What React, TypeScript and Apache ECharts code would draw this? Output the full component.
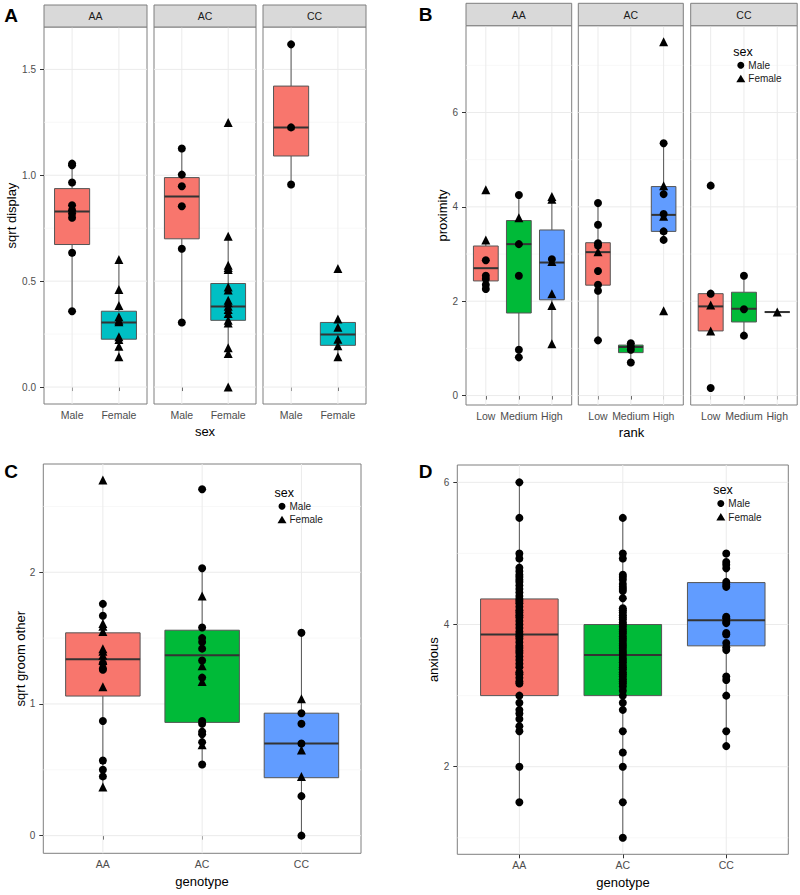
import React, { useEffect, useRef } from "react";
import * as echarts from "echarts";

// ---------- categories ----------
const sexLevels = ["Male", "Female"];
const genotypeLevels = ["AA", "AC", "CC"];
const rankLevels = ["Low", "Medium", "High"];
const legendLevels = ["Male", "Female"];
const fillTwo = ["#F8766D", "#00BFC4"];
const fillThree = ["#F8766D", "#00BA38", "#619CFF"];

// ---------- tick values ----------
const displayTicks = [0, 0.5, 1.0, 1.5];
const displayMinor = [0.25, 0.75, 1.25];
const proximityTicks = [0, 2, 4, 6];
const proximityMinor = [1, 3, 5, 7];
const groomTicks = [0, 1, 2];
const groomMinor = [0.5, 1.5, 2.5];
const anxiousTicks = [2, 4, 6];
const anxiousMinor = [1, 3, 5];

// ---------- Panel A: sqrt display ----------
// box rows: [lower whisker, Q1, median, Q3, upper whisker] for Male, Female
const displayBoxAA = [[0.358, 0.673, 0.829, 0.937, 1.055], [0.143, 0.226, 0.305, 0.358, 0.602]];
const displayBoxAC = [[0.305, 0.700, 0.900, 0.989, 1.126], [0.159, 0.315, 0.380, 0.489, 0.712]];
const displayBoxCC = [[0.956, 1.091, 1.226, 1.421, 1.618], [0.143, 0.197, 0.248, 0.305, 0.321]];
const displayAAMale = [1.055, 1.047, 0.966, 0.858, 0.835, 0.819, 0.799, 0.634, 0.358];
const displayAAFemale = [0.602, 0.461, 0.385, 0.332, 0.316, 0.308, 0.237, 0.225, 0.193, 0.143];
const displayACMale = [1.126, 1.003, 0.948, 0.854, 0.653, 0.305];
const displayACFemale = [1.249, 0.712, 0.575, 0.565, 0.555, 0.473, 0.458, 0.41, 0.398, 0.382, 0.366, 0.347, 0.316, 0.303, 0.185, 0.159, 0.0];
const displayCCMale = [1.618, 1.226, 0.956];
const displayCCFemale = [0.56, 0.321, 0.282, 0.226, 0.195, 0.143];

// ---------- Panel B: proximity ----------
// box rows per rank Low, Medium, High
const proximityBoxAA = [[2.26, 2.43, 2.70, 3.17, 3.30], [0.81, 1.75, 3.21, 3.71, 4.25], [1.10, 2.03, 2.82, 3.51, 4.22]];
const proximityBoxAC = [[1.17, 2.34, 3.04, 3.24, 4.08], [0.70, 0.91, 1.03, 1.07, 1.11], [3.30, 3.48, 3.83, 4.43, 5.35]];
const proximityBoxCC = [[1.37, 1.37, 1.89, 2.16, 2.16], [1.27, 1.56, 1.84, 2.19, 2.54], [1.77, 1.77, 1.77, 1.77, 1.77]];
const proximityAAMale = [[2.87, 2.54, 2.47, 2.35, 2.26], [4.25, 3.21, 2.54, 0.97, 0.81], [2.89]];
const proximityAAFemale = [[4.36, 3.30], [3.77], [4.22, 4.16, 2.84, 2.16, 1.91, 1.10]];
const proximityACMale = [[4.08, 3.62, 3.23, 3.18, 2.64, 2.35, 2.22, 1.17], [1.11, 1.04, 0.97, 0.70], [5.35, 4.27, 3.85, 3.48, 3.30]];
const proximityACFemale = [[3.05], [], [7.50, 4.45, 3.80, 1.80]];
const proximityCCMale = [[4.45, 2.16, 0.16], [2.54, 1.83, 1.27], []];
const proximityCCFemale = [[1.92, 1.37], [], [1.77]];

// ---------- Panel C: sqrt groom other ----------
const groomBox = [[0.37, 1.06, 1.34, 1.54, 1.76], [0.54, 0.86, 1.37, 1.56, 2.03], [0.0, 0.44, 0.70, 0.93, 1.54]];
const groomMale = [
  [1.76, 1.67, 1.31, 1.27, 1.26, 0.87, 0.57, 0.50, 0.45],
  [2.63, 2.03, 1.58, 1.50, 1.47, 1.42, 1.33, 1.20, 0.87, 0.85, 0.79, 0.77, 0.71, 0.54],
  [1.54, 0.93, 0.85, 0.70, 0.30, 0.0],
];
const groomFemale = [
  [2.70, 1.61, 1.59, 1.55, 1.42, 1.40, 1.37, 1.33, 1.13, 0.37],
  [1.82, 1.29, 1.17, 0.69],
  [1.04, 0.65, 0.45],
];

// ---------- Panel D: anxious ----------
const anxiousBox = [[1.5, 3.0, 3.86, 4.36, 6.0], [1.0, 3.0, 3.57, 4.0, 5.5], [2.29, 3.70, 4.06, 4.59, 5.0]];
const anxiousAA = [6.0, 5.5, 5.0, 4.93, 4.8, 4.75, 4.7, 4.67, 4.63, 4.6, 4.55, 4.5, 4.45, 4.4, 4.36, 4.33, 4.3, 4.25, 4.2, 4.17, 4.13, 4.1, 4.05, 4.0, 3.95, 3.9, 3.86, 3.83, 3.8, 3.75, 3.7, 3.67, 3.63, 3.6, 3.55, 3.5, 3.45, 3.4, 3.33, 3.3, 3.25, 3.2, 3.17, 3.0, 2.9, 2.8, 2.75, 2.67, 2.57, 2.5, 2.0, 1.5];
const anxiousAC = [5.5, 5.0, 4.93, 4.7, 4.67, 4.63, 4.57, 4.53, 4.5, 4.47, 4.37, 4.23, 4.2, 4.17, 4.13, 4.1, 4.07, 4.03, 4.0, 3.97, 3.93, 3.9, 3.87, 3.83, 3.8, 3.77, 3.73, 3.7, 3.67, 3.63, 3.6, 3.57, 3.53, 3.5, 3.47, 3.43, 3.4, 3.37, 3.33, 3.3, 3.27, 3.23, 3.2, 3.17, 3.13, 3.07, 3.0, 2.9, 2.8, 2.5, 2.2, 2.0, 1.5, 1.0];
const anxiousCC = [5.0, 4.88, 4.84, 4.79, 4.6, 4.56, 4.53, 4.11, 4.09, 4.04, 4.02, 3.88, 3.86, 3.74, 3.68, 3.64, 3.27, 3.22, 3.0, 2.5, 2.29];

const FONT = "Liberation Sans, Arial, Helvetica, sans-serif";

function gridlineSeries(gi: number, yMajor: number[], yMinor: number[], xMajor: number[]) {
  const data: number[][] = [];
  yMinor.forEach((v) => data.push([0, v, 0]));
  yMajor.forEach((v) => data.push([0, v, 1]));
  xMajor.forEach((v) => data.push([1, v, 1]));
  return {
    type: "custom",
    xAxisIndex: gi,
    yAxisIndex: gi,
    silent: true,
    z: 1,
    data,
    renderItem: (params: any, api: any) => {
      const cs = params.coordSys;
      const orient = api.value(0);
      const v = api.value(1);
      const major = api.value(2);
      const style = { stroke: major ? "#EBEBEB" : "#F5F5F5", lineWidth: major ? 1 : 0.7 };
      if (orient === 0) {
        const y = api.coord([1, v])[1];
        return { type: "line", shape: { x1: cs.x, y1: y, x2: cs.x + cs.width, y2: y }, style };
      }
      const x = api.coord([v, 1])[0];
      return { type: "line", shape: { x1: x, y1: cs.y, x2: x, y2: cs.y + cs.height }, style };
    },
  };
}

function boxSeries(gi: number, boxes: number[][], palette: string[]) {
  return {
    type: "custom",
    xAxisIndex: gi,
    yAxisIndex: gi,
    silent: true,
    z: 2,
    data: boxes.map((b, i) => [i + 1, ...b, i]),
    encode: { x: 0, y: [1, 5] },
    renderItem: (params: any, api: any) => {
      const x = api.value(0);
      const lo = api.value(1), q1 = api.value(2), med = api.value(3), q3 = api.value(4), hi = api.value(5);
      const ci = api.value(6);
      const cx = api.coord([x, med])[0];
      const yLo = api.coord([x, lo])[1];
      const yQ1 = api.coord([x, q1])[1];
      const yMed = api.coord([x, med])[1];
      const yQ3 = api.coord([x, q3])[1];
      const yHi = api.coord([x, hi])[1];
      const half = api.size([0.75, 0])[0] / 2;
      return {
        type: "group",
        children: [
          { type: "line", shape: { x1: cx, y1: yHi, x2: cx, y2: yQ3 }, style: { stroke: "#555", lineWidth: 1 } },
          { type: "line", shape: { x1: cx, y1: yQ1, x2: cx, y2: yLo }, style: { stroke: "#555", lineWidth: 1 } },
          {
            type: "rect",
            shape: { x: cx - half, y: yQ3, width: 2 * half, height: Math.max(0, yQ1 - yQ3) },
            style: { fill: palette[ci], stroke: "#555", lineWidth: 1 },
          },
          { type: "line", shape: { x1: cx - half, y1: yMed, x2: cx + half, y2: yMed }, style: { stroke: "#333", lineWidth: 2 } },
        ],
      };
    },
  };
}

function pointSeries(gi: number, groups: number[][], shape: string) {
  const data: number[][] = [];
  groups.forEach((vals, i) => vals.forEach((v) => data.push([i + 1, v])));
  return {
    type: "scatter",
    xAxisIndex: gi,
    yAxisIndex: gi,
    silent: true,
    z: 3,
    symbol: shape,
    symbolSize: shape === "triangle" ? 9 : 8,
    itemStyle: { color: "#000", opacity: 1 },
    data,
  };
}

function xAxisFor(gi: number, levels: string[]) {
  const vals = levels.map((_, i) => i + 1);
  return {
    type: "value",
    gridIndex: gi,
    min: 0.4,
    max: levels.length + 0.6,
    axisLine: { show: false },
    splitLine: { show: false },
    axisTick: { show: true, customValues: vals, length: 4, lineStyle: { color: "#333" } },
    axisLabel: {
      show: true,
      customValues: vals,
      formatter: (v: number) => levels[Math.round(v) - 1],
      color: "#4D4D4D",
      fontSize: 10.5,
      fontFamily: FONT,
      margin: 5,
    },
  };
}

function yAxisFor(gi: number, min: number, max: number, ticks: number[] | null, digits: number) {
  return {
    type: "value",
    gridIndex: gi,
    min,
    max,
    axisLine: { show: false },
    splitLine: { show: false },
    axisTick: ticks
      ? { show: true, customValues: ticks, length: 4, lineStyle: { color: "#333" } }
      : { show: false },
    axisLabel: ticks
      ? {
          show: true,
          customValues: ticks,
          formatter: (v: number) => v.toFixed(digits),
          color: "#4D4D4D",
          fontSize: 10,
          fontFamily: FONT,
          margin: 8,
        }
      : { show: false },
  };
}

function txt(text: string, x: number, y: number, size: number, opts: any = {}) {
  return {
    type: "text",
    x,
    y,
    rotation: opts.rotation || 0,
    silent: true,
    z: 10,
    style: {
      text,
      fontSize: size,
      fontFamily: FONT,
      fontWeight: opts.bold ? "bold" : "normal",
      fill: opts.color || "#000",
      align: opts.align || "center",
      textAlign: opts.align || "center",
      verticalAlign: "middle",
      textVerticalAlign: "middle",
    },
  };
}

function strip(label: string, x: number, y: number, w: number, h: number) {
  return [
    { type: "rect", shape: { x, y, width: w, height: h }, style: { fill: "#D9D9D9", stroke: "#7F7F7F", lineWidth: 1 }, z: 9, silent: true },
    txt(label, x + w / 2, y + h / 2, 10.5, { color: "#1A1A1A" }),
  ];
}

function legend(x: number, y: number) {
  return [
    txt("sex", x, y, 12.5, { align: "left" }),
    { type: "circle", shape: { cx: x + 7.5, cy: y + 13.5, r: 3.5 }, style: { fill: "#000" }, z: 10, silent: true },
    txt(legendLevels[0], x + 15, y + 13.5, 10, { align: "left", color: "#1A1A1A" }),
    {
      type: "polygon",
      shape: { points: [[x + 7.5, y + 23], [x + 12, y + 30.5], [x + 3, y + 30.5]] },
      style: { fill: "#000" },
      z: 10,
      silent: true,
    },
    txt(legendLevels[1], x + 15, y + 27, 10, { align: "left", color: "#1A1A1A" }),
  ];
}

export default function App() {
  const ref = useRef<HTMLDivElement>(null);
  useEffect(() => {
    if (!ref.current) return;
    const chart = echarts.init(ref.current, undefined, { renderer: "svg" });

    const gridStyle = { show: true, borderColor: "#7F7F7F", borderWidth: 1, backgroundColor: "#fff" };
    const grids = [
      { left: 44, top: 27, width: 103, height: 377 },
      { left: 154, top: 27, width: 102, height: 377 },
      { left: 263, top: 27, width: 103, height: 377 },
      { left: 466, top: 25.7, width: 105.7, height: 379.3 },
      { left: 578.3, top: 25.7, width: 105, height: 379.3 },
      { left: 690.7, top: 25.7, width: 106.5, height: 379.3 },
      { left: 43.3, top: 464, width: 317.7, height: 389.3 },
      { left: 457.3, top: 465, width: 331, height: 389.3 },
    ].map((g) => ({ ...g, ...gridStyle }));

    const xAxes = [
      xAxisFor(0, sexLevels), xAxisFor(1, sexLevels), xAxisFor(2, sexLevels),
      xAxisFor(3, rankLevels), xAxisFor(4, rankLevels), xAxisFor(5, rankLevels),
      xAxisFor(6, genotypeLevels), xAxisFor(7, genotypeLevels),
    ];
    const yAxes = [
      yAxisFor(0, -0.08, 1.7, displayTicks, 1), yAxisFor(1, -0.08, 1.7, null, 1), yAxisFor(2, -0.08, 1.7, null, 1),
      yAxisFor(3, -0.2, 7.84, proximityTicks, 0), yAxisFor(4, -0.2, 7.84, null, 0), yAxisFor(5, -0.2, 7.84, null, 0),
      yAxisFor(6, -0.134, 2.822, groomTicks, 0),
      yAxisFor(7, 0.768, 6.244, anxiousTicks, 0),
    ];

    const displayBoxes = [displayBoxAA, displayBoxAC, displayBoxCC];
    const displayMale = [displayAAMale, displayACMale, displayCCMale];
    const displayFemale = [displayAAFemale, displayACFemale, displayCCFemale];
    const proxBoxes = [proximityBoxAA, proximityBoxAC, proximityBoxCC];
    const proxMale = [proximityAAMale, proximityACMale, proximityCCMale];
    const proxFemale = [proximityAAFemale, proximityACFemale, proximityCCFemale];

    const series: any[] = [];
    for (let g = 0; g < 3; g++) {
      series.push(gridlineSeries(g, displayTicks, displayMinor, [1, 2]));
      series.push(boxSeries(g, displayBoxes[g], fillTwo));
      series.push(pointSeries(g, [displayMale[g], []], "circle"));
      series.push(pointSeries(g, [[], displayFemale[g]], "triangle"));
    }
    for (let g = 0; g < 3; g++) {
      const gi = 3 + g;
      series.push(gridlineSeries(gi, proximityTicks, proximityMinor, [1, 2, 3]));
      series.push(boxSeries(gi, proxBoxes[g], fillThree));
      series.push(pointSeries(gi, proxMale[g], "circle"));
      series.push(pointSeries(gi, proxFemale[g], "triangle"));
    }
    series.push(gridlineSeries(6, groomTicks, groomMinor, [1, 2, 3]));
    series.push(boxSeries(6, groomBox, fillThree));
    series.push(pointSeries(6, groomMale, "circle"));
    series.push(pointSeries(6, groomFemale, "triangle"));
    series.push(gridlineSeries(7, anxiousTicks, anxiousMinor, [1, 2, 3]));
    series.push(boxSeries(7, anxiousBox, fillThree));
    series.push(pointSeries(7, [anxiousAA, anxiousAC, anxiousCC], "circle"));

    const graphic: any[] = [
      txt("A", 11, 15, 19, { bold: true }),
      txt("B", 425.5, 14.5, 19, { bold: true }),
      txt("C", 11, 471.5, 19, { bold: true }),
      txt("D", 425.5, 471.5, 19, { bold: true }),
      ...strip(genotypeLevels[0], 44, 5, 103, 22),
      ...strip(genotypeLevels[1], 154, 5, 102, 22),
      ...strip(genotypeLevels[2], 263, 5, 103, 22),
      ...strip(genotypeLevels[0], 466, 3.3, 105.7, 22.4),
      ...strip(genotypeLevels[1], 578.3, 3.3, 105, 22.4),
      ...strip(genotypeLevels[2], 690.7, 3.3, 106.5, 22.4),
      txt("sqrt display", 11, 215.5, 13, { rotation: Math.PI / 2 }),
      txt("proximity", 442, 215.5, 13, { rotation: Math.PI / 2 }),
      txt("sqrt groom other", 20, 658.7, 13, { rotation: Math.PI / 2 }),
      txt("anxious", 433, 659.7, 13, { rotation: Math.PI / 2 }),
      txt("sex", 205, 431, 13),
      txt("rank", 631.5, 432, 13),
      txt("genotype", 202, 881, 13),
      txt("genotype", 623, 882, 13),
      ...legend(733.3, 51.7),
      ...legend(274.5, 492.7),
      ...legend(713.3, 490),
    ];

    chart.setOption({
      animation: false,
      backgroundColor: "#fff",
      textStyle: { fontFamily: FONT },
      grid: grids,
      xAxis: xAxes,
      yAxis: yAxes,
      series,
      graphic,
    });
    return () => chart.dispose();
  }, []);
  return <div ref={ref} style={{ position: "absolute", left: 0, top: 0, width: 800, height: 895 }} />;
}
